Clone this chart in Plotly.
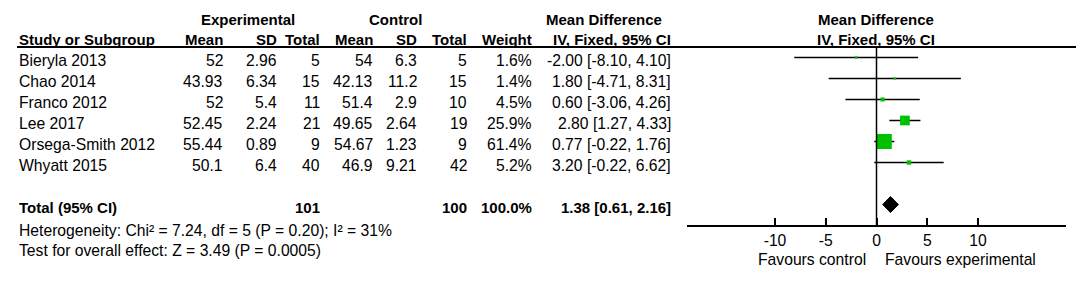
import numpy as np
import plotly.graph_objects as go

# ---------------- data ----------------
studies = ["Bieryla 2013", "Chao 2014", "Franco 2012", "Lee 2017", "Orsega-Smith 2012", "Whyatt 2015"]
exp_mean = ["52", "43.93", "52", "52.45", "55.44", "50.1"]
exp_sd = ["2.96", "6.34", "5.4", "2.24", "0.89", "6.4"]
exp_total = ["5", "15", "11", "21", "9", "40"]
ctl_mean = ["54", "42.13", "51.4", "49.65", "54.67", "46.9"]
ctl_sd = ["6.3", "11.2", "2.9", "2.64", "1.23", "9.21"]
ctl_total = ["5", "15", "10", "19", "9", "42"]
weights = [1.6, 1.4, 4.5, 25.9, 61.4, 5.2]
md = [-2.00, 1.80, 0.60, 2.80, 0.77, 3.20]
ci_low = [-8.10, -4.71, -3.06, 1.27, -0.22, -0.22]
ci_high = [4.10, 8.31, 4.26, 4.33, 1.76, 6.62]

total_label = "Total (95% CI)"
total_exp = "101"
total_ctl = "100"
total_weight = "100.0%"
total_md = 1.38
total_low = 0.61
total_high = 2.16

heterogeneity = "Heterogeneity: Chi² = 7.24, df = 5 (P = 0.20); I² = 31%"
overall = "Test for overall effect: Z = 3.49 (P = 0.0005)"

x_ticks = [-10, -5, 0, 5, 10]
x_range = [-18.67, 18.67]

# ---------------- layout helpers ----------------
W, H = 1084, 282
OX, OY = 8, 8          # page body margin offset
ROW0_PX = 57.5 - OY
ROW_PX = 21.0
y_top = -ROW0_PX / ROW_PX
y_bot = (H - ROW0_PX) / ROW_PX
FONT = "Liberation Sans, Arial, sans-serif"
FS_B = 15
FS_R = 15.7
TXT_OFF = 0.12

def px(x):
    return (x - OX) / W

def row_of(ypx):
    return (ypx - OY - ROW0_PX) / ROW_PX

fig = go.Figure()
rows = list(range(len(studies)))

# CI lines
for i in rows:
    fig.add_trace(go.Scatter(x=[ci_low[i], ci_high[i]], y=[i, i], mode="lines",
                             line=dict(color="black", width=1.5), hoverinfo="skip",
                             showlegend=False))

# squares
sizes = [1.91 * np.sqrt(w) for w in weights]
fig.add_trace(go.Scatter(x=md, y=rows, mode="markers",
                         marker=dict(symbol="square", size=sizes, color="#00c000",
                                     line=dict(width=0), opacity=1),
                         showlegend=False, hoverinfo="skip"))

# diamond
trow = 7
h = 8 / ROW_PX
fig.add_trace(go.Scatter(x=[total_low, total_md, total_high, total_md, total_low],
                         y=[trow, trow - h, trow, trow + h, trow],
                         mode="lines", fill="toself", fillcolor="black",
                         line=dict(color="black", width=1), showlegend=False,
                         hoverinfo="skip"))

shapes = [
    dict(type="line", xref="paper", yref="y", x0=px(17), x1=px(1079),
         y0=-0.5, y1=-0.5, line=dict(color="black", width=2)),
    dict(type="line", xref="x", yref="y", x0=0, x1=0, y0=-0.5, y1=8,
         line=dict(color="black", width=1.5)),
]

ann = []

def t(x, y, text, anchor="right", bold=False):
    ann.append(dict(x=px(x), y=y, xref="paper", yref="y",
                    text=("<b>%s</b>" % text) if bold else text,
                    xanchor=anchor, yanchor="middle", showarrow=False,
                    font=dict(family=FONT, size=FS_B if bold else FS_R, color="black")))

hdr1 = row_of(19)
hdr2 = row_of(39)
t(248, hdr1, "Experimental", "center", True)
t(395, hdr1, "Control", "center", True)
t(604, hdr1, "Mean Difference", "center", True)
t(876, hdr1, "Mean Difference", "center", True)
t(17, hdr2, "Study or Subgroup", "left", True)
t(225, hdr2, "Mean", bold=True)
t(279, hdr2, "SD", bold=True)
t(322, hdr2, "Total", bold=True)
t(375, hdr2, "Mean", bold=True)
t(419, hdr2, "SD", bold=True)
t(469, hdr2, "Total", bold=True)
t(534, hdr2, "Weight", bold=True)
t(673, hdr2, "IV, Fixed, 95% CI", bold=True)
t(876, hdr2, "IV, Fixed, 95% CI", "center", True)

for i in rows:
    y = i + TXT_OFF
    t(17, y, studies[i], "left")
    t(225, y, exp_mean[i])
    t(279, y, exp_sd[i])
    t(322, y, exp_total[i])
    t(375, y, ctl_mean[i])
    t(419, y, ctl_sd[i])
    t(469, y, ctl_total[i])
    t(534, y, "%.1f%%" % weights[i])
    t(673, y, "%.2f [%.2f, %.2f]" % (md[i], ci_low[i], ci_high[i]))

ty = trow + TXT_OFF
t(17, ty, total_label, "left", True)
t(322, ty, total_exp, bold=True)
t(469, ty, total_ctl, bold=True)
t(534, ty, total_weight, bold=True)
t(673, ty, "%.2f [%.2f, %.2f]" % (total_md, total_low, total_high), bold=True)

t(17, row_of(230), heterogeneity, "left")
t(17, row_of(250), overall, "left")

t(868, row_of(259), "Favours control", "right")
t(883, row_of(259), "Favours experimental", "left")

axis_px = 225.7 - OY
fig.update_layout(
    width=W, height=H,
    margin=dict(l=0, r=0, t=0, b=0),
    paper_bgcolor="white", plot_bgcolor="white",
    xaxis=dict(domain=[px(687), px(1066)], range=x_range, anchor="free",
               position=1 - axis_px / H, showline=True, linecolor="black", linewidth=2,
               ticks="inside", ticklen=7, tickwidth=1.5, tickcolor="black",
               tickvals=x_ticks, ticktext=[str(v) for v in x_ticks],
               showgrid=False, zeroline=False,
               tickfont=dict(family=FONT, size=FS_R, color="black")),
    yaxis=dict(domain=[0, 1], range=[y_bot, y_top], visible=False,
               showgrid=False, zeroline=False),
    shapes=shapes, annotations=ann, showlegend=False,
)

fig.write_html("out.html")
